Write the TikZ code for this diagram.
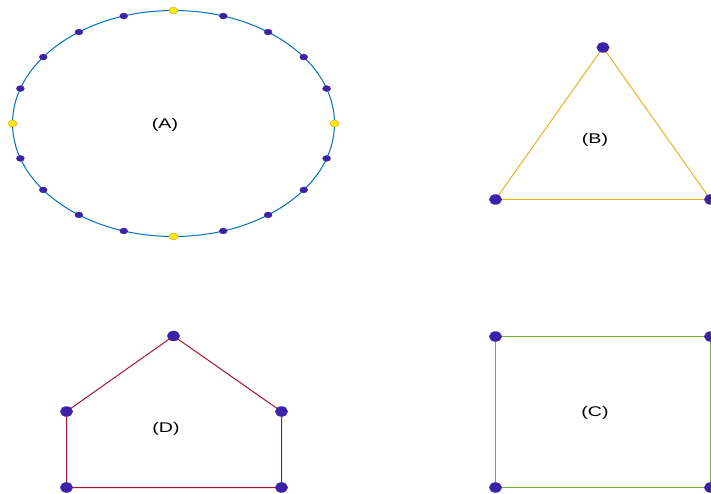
\documentclass[tikz,border=0pt]{standalone}
\usepackage{graphicx}
\usepackage{fontspec}
\setmainfont{Liberation Sans}
\usetikzlibrary{shapes.geometric}
\definecolor{ellc}{rgb}{0,0.447,0.741}
\definecolor{tric}{rgb}{0.929,0.694,0.125}
\definecolor{pentc}{rgb}{0.635,0.078,0.184}
\definecolor{rectc}{rgb}{0.466,0.674,0.188}
\definecolor{dotc}{RGB}{60,34,168}
\definecolor{yelc}{RGB}{255,236,0}
\definecolor{yeledge}{RGB}{225,150,60}
\newcommand{\widelbl}[1]{\scalebox{1.4}[1]{#1}}
\tikzset{
  smalldot/.style={ellipse,fill=dotc,draw=dotc!80!pentc,line width=0.3pt,minimum width=8pt,minimum height=6pt,inner sep=0pt},
  yeldot/.style={ellipse,fill=yelc,draw=yeledge,line width=0.4pt,minimum width=9pt,minimum height=7pt,inner sep=0pt},
  bigdot/.style={ellipse,fill=dotc,draw=dotc,line width=0.3pt,minimum width=12.5pt,minimum height=10pt,inner sep=0pt},
  lbl/.style={font=\fontsize{14}{16}\selectfont,inner sep=0pt},
  edge/.style={line width=1pt}
}
\begin{document}
\begin{tikzpicture}[x=1pt,y=-1pt]
\useasboundingbox (0,0) rectangle (711,494);
% (A) ellipse
\draw[ellc,edge] (173.5,123.5) ellipse [x radius=161, y radius=113];
\foreach \i in {0,...,19}{
  \pgfmathsetmacro{\ang}{18*\i}
  \pgfmathtruncatemacro{\m}{mod(\i,5)}
  \ifnum\m=0
    \node[yeldot] (e\i) at ({173.5+161*sin(\ang)},{123.5-113*cos(\ang)}) {};
  \else
    \node[smalldot] (e\i) at ({173.5+161*sin(\ang)},{123.5-113*cos(\ang)}) {};
  \fi
}
\node[lbl] (la) at (165,124.5) {\widelbl{(A)}};
% (B) triangle
\coordinate (t1) at (603,47.5);
\coordinate (t2) at (495.5,199.5);
\coordinate (t3) at (710.5,199.5);
\draw[tric,edge] (t1) -- (t2) -- (t3) -- cycle;
\node[bigdot] (b1) at (t1) {};
\node[bigdot] (b2) at (t2) {};
\node[bigdot] (b3) at (t3) {};
\node[lbl] (lb) at (595,139.5) {\widelbl{(B)}};
% (D) pentagon
\coordinate (p1) at (173.5,336);
\coordinate (p2) at (281.5,411.5);
\coordinate (p3) at (281.5,487.5);
\coordinate (p4) at (66.5,487.5);
\coordinate (p5) at (66.5,411.5);
\draw[pentc,edge] (p1) -- (p2) -- (p3) -- (p4) -- (p5) -- cycle;
\foreach \p in {p1,p2,p3,p4,p5}{\node[bigdot] (d\p) at (\p) {};}
\node[lbl] (ld) at (166,428.5) {\widelbl{(D)}};
% (C) rectangle
\coordinate (r1) at (495.5,336.5);
\coordinate (r2) at (710.5,336.5);
\coordinate (r3) at (710.5,487.5);
\coordinate (r4) at (495.5,487.5);
\draw[rectc,edge] (r1) -- (r2) -- (r3) -- (r4) -- cycle;
\foreach \p in {r1,r2,r3,r4}{\node[bigdot] (c\p) at (\p) {};}
\node[lbl] (lc) at (595,412.5) {\widelbl{(C)}};
\end{tikzpicture}
\end{document}
